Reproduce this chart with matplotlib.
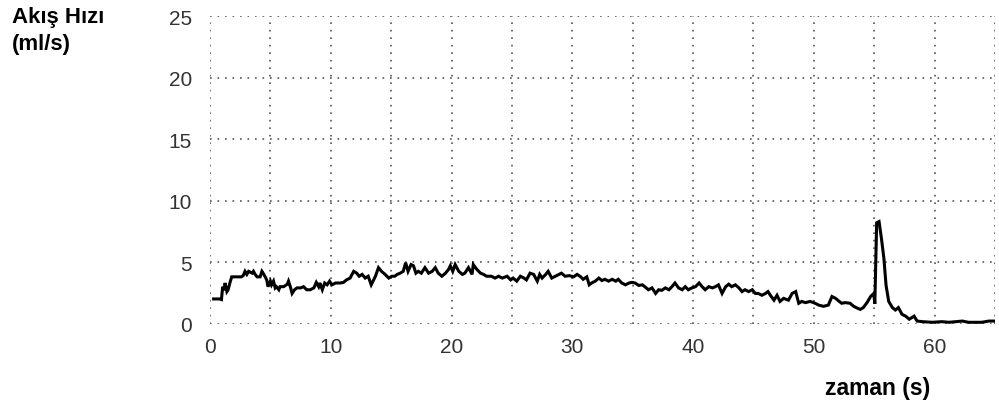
import matplotlib
matplotlib.use("Agg")
import matplotlib.pyplot as plt

plt.rcParams["font.family"] = ["Liberation Sans", "DejaVu Sans"]

# ── flow curve (time in s, flow in ml/s) ─────────────────────────────────────
time_s = [
    0.3, 0.8, 0.95, 1.05, 1.15, 1.25, 1.4, 1.5, 1.66, 1.8, 2.6, 2.75, 2.9, 3.05,
    3.2, 3.5, 3.6, 3.74, 3.9, 4.15, 4.3, 4.4, 4.57, 4.7, 4.8, 5.0, 5.1, 5.26,
    5.4, 5.5, 5.7, 5.8, 6.1, 6.4, 6.5, 6.65, 6.8, 7.0, 7.2, 7.5, 7.75, 8.0,
    8.3, 8.6, 8.8, 9.0, 9.1, 9.3, 9.5, 9.7, 9.9, 10.1, 10.4, 10.8,
    11.05, 11.3, 11.6, 11.9, 12.15, 12.35, 12.6, 12.85, 13.1, 13.35, 13.5,
    13.7, 13.95, 14.2, 14.5, 14.8, 15.05, 15.3, 15.5, 15.75, 16.0, 16.2, 16.4,
    16.65, 16.85, 17.05, 17.25, 17.5, 17.8, 18.1, 18.4, 18.65, 18.9, 19.2,
    19.5, 19.75, 19.9, 20.1, 20.3, 20.6, 20.9, 21.1, 21.4, 21.7, 21.8, 22.1,
    22.4, 22.65, 22.9, 23.3, 23.6, 23.9, 24.2, 24.6, 24.9, 25.1, 25.4, 25.7,
    26.0, 26.2, 26.5, 26.8, 27.1, 27.3, 27.5, 27.8, 28.0, 28.3, 28.6, 28.9,
    29.1, 29.4, 29.75, 30.1, 30.4, 30.7, 30.9, 31.2, 31.4, 31.6, 31.9, 32.2,
    32.45, 32.7, 33.0, 33.3, 33.6, 33.8, 34.1, 34.4, 34.7, 34.95, 35.2, 35.5,
    35.8, 36.0, 36.3, 36.6, 36.9, 37.15, 37.4, 37.7, 38.0, 38.25, 38.5, 38.8,
    39.1, 39.35, 39.6, 39.9, 40.2, 40.5, 40.75, 41.0, 41.3, 41.6, 41.85, 42.1,
    42.4, 42.7, 42.95, 43.2, 43.5, 43.8, 44.05, 44.3, 44.6, 44.9, 45.15, 45.4,
    45.7, 46.0, 46.2, 46.4, 46.7, 46.95, 47.2, 47.5, 47.9, 48.2, 48.5, 48.6,
    48.75, 49.0, 49.3, 49.7, 50.1, 50.4, 50.8, 51.2, 51.5, 51.8, 52.1, 52.3,
    52.6, 53.0, 53.3, 53.6, 53.85, 54.1, 54.4, 54.7, 54.96, 55.05, 55.2, 55.4,
    55.6, 55.8, 55.98, 56.2, 56.5, 56.75, 57.0, 57.3, 57.6, 57.9, 58.3, 58.55,
    59.0, 59.8, 60.6, 61.2, 62.3, 62.8, 63.9, 64.5, 65.0,
]
flow_mls = [
    2.0, 2.0, 1.95, 3.0, 2.7, 3.3, 2.6, 2.75, 3.35, 3.8, 3.8, 3.9, 4.25, 4.0,
    4.25, 4.1, 4.25, 4.0, 3.8, 3.8, 4.25, 4.1, 3.8, 3.55, 3.0, 3.45, 3.15, 3.45,
    2.9, 3.0, 2.75, 3.0, 3.0, 3.2, 3.45, 3.0, 2.45, 2.75, 2.9, 2.9, 3.0, 2.75,
    2.75, 2.9, 3.35, 3.0, 3.3, 2.75, 3.3, 3.15, 3.45, 3.15, 3.3, 3.3,
    3.35, 3.55, 3.7, 4.25, 4.1, 3.85, 4.0, 3.7, 3.85, 3.15, 3.45,
    3.85, 4.55, 4.25, 4.0, 3.7, 3.85, 3.85, 4.0, 4.1, 4.25, 4.95, 4.25,
    4.8, 4.7, 4.1, 4.25, 4.1, 4.55, 4.1, 4.25, 4.55, 4.1, 3.85,
    4.1, 4.4, 4.7, 4.25, 4.8, 4.25, 4.0, 4.1, 4.55, 4.0, 4.8, 4.4,
    4.1, 4.0, 3.85, 3.85, 3.7, 3.85, 3.7, 3.85, 3.55, 3.7, 3.45, 3.85,
    3.7, 3.55, 4.1, 4.0, 3.45, 4.0, 3.7, 4.0, 4.25, 3.7, 3.85, 4.0,
    4.1, 3.85, 3.9, 3.8, 4.0, 3.8, 3.6, 3.8, 3.15, 3.3, 3.45, 3.7,
    3.5, 3.6, 3.45, 3.6, 3.45, 3.6, 3.3, 3.15, 3.3, 3.35, 3.3, 3.1,
    3.15, 3.0, 2.75, 2.9, 2.45, 2.75, 2.7, 2.9, 2.75, 3.0, 3.3, 2.9,
    2.75, 3.0, 2.75, 2.9, 3.0, 3.3, 3.0, 2.75, 3.0, 2.9, 3.0, 3.15,
    2.45, 3.0, 3.2, 3.0, 3.15, 2.9, 2.6, 2.75, 2.6, 2.75, 2.45, 2.45,
    2.3, 2.45, 2.6, 2.3, 1.9, 2.3, 1.8, 2.05, 1.9, 2.45, 2.6, 2.2,
    1.65, 1.8, 1.7, 1.8, 1.65, 1.5, 1.4, 1.5, 2.2, 2.05, 1.8, 1.65,
    1.7, 1.65, 1.4, 1.25, 1.15, 1.3, 1.7, 2.2, 2.45, 1.6, 8.2, 8.3,
    6.9, 5.3, 3.1, 1.8, 1.3, 1.1, 1.3, 0.75, 0.6, 0.35, 0.6, 0.2,
    0.15, 0.1, 0.15, 0.1, 0.2, 0.1, 0.1, 0.2, 0.2,
]

x_ticks = list(range(0, 70, 5))
x_labels = [str(v) if v % 10 == 0 else "" for v in x_ticks]
y_ticks = [0, 5, 10, 15, 20, 25]

fig = plt.figure(figsize=(9.99, 4.06), dpi=100)
ax = fig.add_axes([0.2102, 0.2007, 0.7858, 0.7562])

ax.plot(time_s, flow_mls, color="black", lw=2.2, solid_joinstyle="miter")

ax.set_xlim(0, 65)
ax.set_ylim(0, 25)
ax.set_xticks(x_ticks)
ax.set_xticklabels(x_labels)
ax.set_yticks(y_ticks)
ax.tick_params(axis="both", length=0, labelsize=15, colors="#333333")
ax.tick_params(axis="x", pad=9.5)
ax.tick_params(axis="y", pad=13)

ax.grid(True, color="#555555", lw=1.2, linestyle=(0, (1, 3.5)))
for s in ax.spines.values():
    s.set_visible(False)

fig.text(0.012, 0.9433, "Akış Hızı", fontsize=16, fontweight="bold", va="baseline")
fig.text(0.012, 0.877, "(ml/s)", fontsize=16, fontweight="bold", va="baseline")
fig.text(0.879, 0.027, "zaman (s)", fontsize=16.5, fontweight="bold",
         ha="center", va="baseline")

fig.savefig("out.png", dpi=100, facecolor="white")
